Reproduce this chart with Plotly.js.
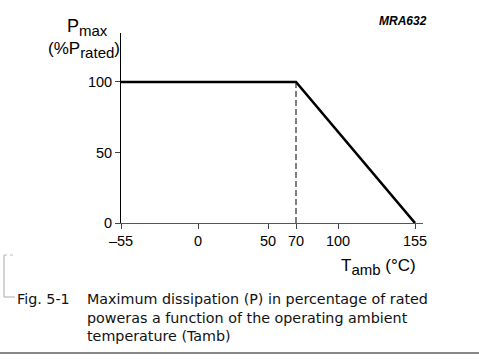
<!DOCTYPE html>
<html>
<head>
<meta charset="utf-8">
<script src="https://cdn.plot.ly/plotly-3.0.1.min.js"></script>
<style>html,body{margin:0;padding:0;background:#fff;}#chart{width:479px;height:359px;}</style>
</head>
<body>
<div id="chart"></div>
<script>
// Data
var tempC = [-55, 70, 155];
var pmaxPct = [100, 100, 0];
var kneeX = [70, 70];
var kneeY = [0, 100];
var xTickVals = [-55, 0, 50, 70, 100, 155];
var xTickText = ['\u201355', '0', '50', '70', '100', '155'];
var yTickVals = [0, 50, 100];
var yTickText = ['0', '50', '100'];
var captionLabel = 'Fig. 5-1';
var captionLines = [
  'Maximum dissipation (P) in percentage of rated',
  'poweras a function of the operating ambient',
  'temperature (Tamb)'
];

var W = 479, H = 359;
var L = 121, R = 56, T = 33, B = 136;
var pw = W - L - R, ph = H - T - B;
function px(x) { return (x - L) / pw; }
function py(y) { return (H - B - y) / ph; }
function sub(t, s) { return '<sub><span style="font-size:' + s + 'px">' + t + '</span></sub>'; }

var traces = [
  {x: tempC, y: pmaxPct, type: 'scatter', mode: 'lines',
   line: {color: '#000', width: 2.6}, hoverinfo: 'skip', cliponaxis: false},
  {x: kneeX, y: kneeY, type: 'scatter', mode: 'lines',
   line: {color: '#000', width: 1, dash: '6px,3px'}, hoverinfo: 'skip'}
];

var fam = '"Liberation Sans", Arial, sans-serif';
var tickFont = {family: fam, size: 14.5, color: '#000'};
var capFont = {family: '"DejaVu Sans", Lato, sans-serif', size: 14.3, color: '#111'};

var annotations = [
  {xref: 'paper', yref: 'paper', x: px(87), y: py(28), xanchor: 'center', yanchor: 'middle',
   text: 'P' + sub('max', 15), showarrow: false, font: {family: fam, size: 18, color: '#000'}},
  {xref: 'paper', yref: 'paper', x: px(84), y: py(50), xanchor: 'center', yanchor: 'middle',
   text: '(%P' + sub('rated', 15) + ')', showarrow: false, font: {family: fam, size: 17, color: '#000'}},
  {xref: 'paper', yref: 'paper', x: px(418), y: py(267), xanchor: 'right', yanchor: 'middle',
   text: 'T' + sub('amb', 15) + ' (\u00B0C)', showarrow: false, font: {family: fam, size: 17, color: '#000'}},
  {xref: 'paper', yref: 'paper', x: px(403), y: py(21), xanchor: 'center', yanchor: 'middle',
   text: '<b><i>MRA632</i></b>', showarrow: false, font: {family: fam, size: 12, color: '#000'}},
  {xref: 'paper', yref: 'paper', x: px(15), y: py(299), xanchor: 'left', yanchor: 'middle',
   text: captionLabel, showarrow: false, font: capFont},
  {xref: 'paper', yref: 'paper', x: px(85), y: py(289), xanchor: 'left', yanchor: 'top', align: 'left',
   text: captionLines.join('<br>'), showarrow: false, font: capFont}
];

var shapes = [
  {type: 'line', xref: 'paper', yref: 'paper', x0: px(4), x1: px(4), y0: py(255), y1: py(297), line: {color: '#aaa', width: 1}},
  {type: 'line', xref: 'paper', yref: 'paper', x0: px(4), x1: px(15), y0: py(255), y1: py(255), line: {color: '#bbb', width: 1, dash: 'dot'}},
  {type: 'line', xref: 'paper', yref: 'paper', x0: px(4), x1: px(15), y0: py(297), y1: py(297), line: {color: '#aaa', width: 1}},
  {type: 'line', xref: 'paper', yref: 'paper', x0: px(0), x1: px(479), y0: py(353), y1: py(353), line: {color: '#888', width: 2}}
];

var layout = {
  width: W, height: H,
  margin: {l: L, r: R, t: T, b: B, pad: 0},
  paper_bgcolor: '#fff', plot_bgcolor: '#fff',
  showlegend: false,
  xaxis: {range: [-55, 160.7], tickvals: xTickVals, ticktext: xTickText, ticks: 'outside', ticklen: 5,
    tickcolor: '#444', showline: true, linecolor: '#555', linewidth: 1, showgrid: false, zeroline: false,
    tickfont: tickFont, fixedrange: true},
  yaxis: {range: [0, 134.7], tickvals: yTickVals, ticktext: yTickText, ticks: 'outside', ticklen: 5,
    tickcolor: '#444', showline: true, linecolor: '#000', linewidth: 1, showgrid: false, zeroline: false,
    tickfont: tickFont, fixedrange: true},
  annotations: annotations,
  shapes: shapes
};

Plotly.newPlot('chart', traces, layout, {staticPlot: true, displayModeBar: false});
</script>
</body>
</html>
